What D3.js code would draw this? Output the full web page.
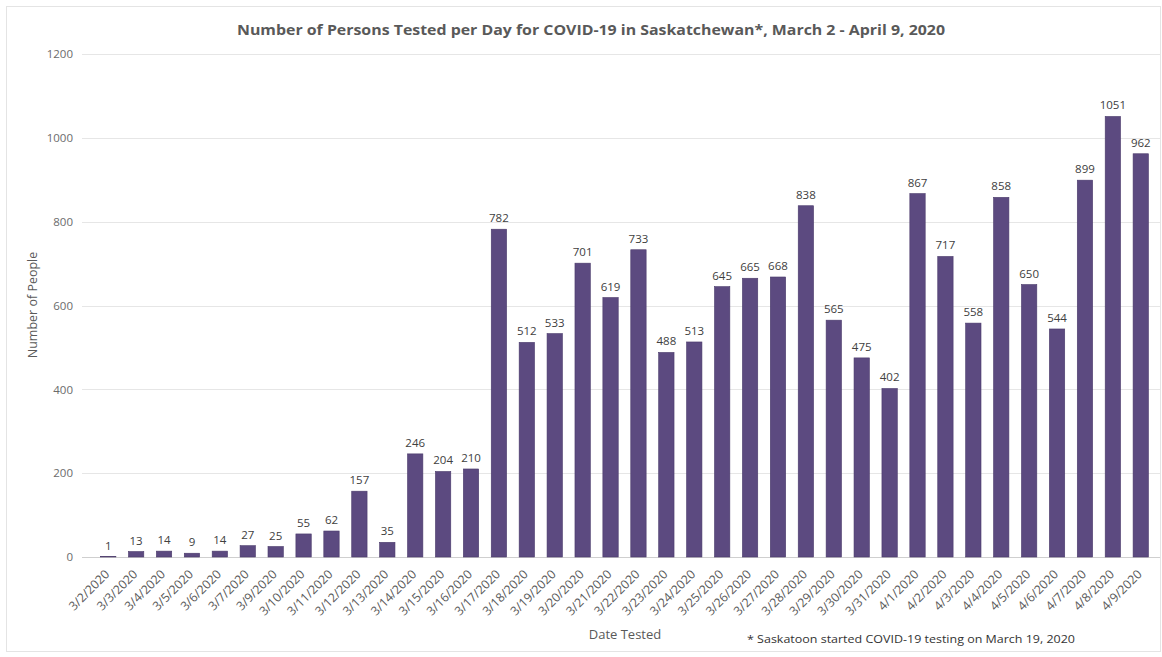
<!DOCTYPE html>
<html>
<head>
<meta charset="utf-8">
<script src="https://cdn.jsdelivr.net/npm/d3@7"></script>
<style>
  body { margin: 0; background: #fff; }
  svg text { font-family: "Open Sans", "Liberation Sans", sans-serif; }
</style>
</head>
<body>
<div id="chart"></div>
<script>
var dates = ["3/2/2020","3/3/2020","3/4/2020","3/5/2020","3/6/2020","3/7/2020","3/9/2020","3/10/2020",
  "3/11/2020","3/12/2020","3/13/2020","3/14/2020","3/15/2020","3/16/2020","3/17/2020","3/18/2020",
  "3/19/2020","3/20/2020","3/21/2020","3/22/2020","3/23/2020","3/24/2020","3/25/2020","3/26/2020",
  "3/27/2020","3/28/2020","3/29/2020","3/30/2020","3/31/2020","4/1/2020","4/2/2020","4/3/2020",
  "4/4/2020","4/5/2020","4/6/2020","4/7/2020","4/8/2020","4/9/2020"];
var tested = [1,13,14,9,14,27,25,55,62,157,35,246,204,210,782,512,533,701,619,733,488,513,645,665,
  668,838,565,475,402,867,717,558,858,650,544,899,1051,962];
var yTicks = [0,200,400,600,800,1000,1200];

var W = 1162, H = 657;
var margin = {top: 54, right: 1, bottom: 100, left: 88};
var barColor = '#5c4a80';

var svg = d3.select("#chart").append("svg").attr("width", W).attr("height", H);

// outer frame
svg.append("rect").attr("x", 6.5).attr("y", 6.5).attr("width", W - 8).attr("height", H - 12)
  .attr("fill", "none").attr("stroke", "#e4e4e4");

var x = d3.scaleBand().domain(dates).range([margin.left, W - margin.right]).padding(0.45);
var y = d3.scaleLinear().domain([0, 1200]).range([H - margin.bottom, margin.top]);

// gridlines
svg.append("g").selectAll("line").data(yTicks).enter().append("line")
  .attr("x1", 82).attr("x2", W - 2)
  .attr("y1", function (d) { return Math.round(y(d)) + 0.5; })
  .attr("y2", function (d) { return Math.round(y(d)) + 0.5; })
  .attr("stroke", function (d) { return d == 0 ? "#cfcfcf" : "#e6e6e6"; });

// y axis labels
var yAxis = svg.append("g").attr("transform", "translate(73,0)")
  .call(d3.axisLeft(y).tickValues(yTicks).tickFormat(d3.format("d")).tickSize(0).tickPadding(0));
yAxis.select(".domain").remove();
yAxis.selectAll("text").attr("fill", "#6b6b6b").style("font-size", "11.5px");

// bars
svg.append("g").selectAll("rect").data(tested).enter().append("rect")
  .attr("x", function (d, i) { return x(dates[i]); })
  .attr("y", function (d) { return y(d); })
  .attr("width", x.bandwidth())
  .attr("height", function (d) { return y(0) - y(d); })
  .attr("fill", barColor)
  .attr("stroke", "#4a3a6a").attr("stroke-width", 0.6);

// value labels
svg.append("g").selectAll("text").data(tested).enter().append("text")
  .attr("x", function (d, i) { return x(dates[i]) + x.bandwidth() / 2; })
  .attr("y", function (d) { return y(d) - 7; })
  .attr("text-anchor", "middle")
  .attr("fill", "#404040")
  .style("font-size", "11.5px")
  .text(function (d) { return d; });

// x axis labels
var xAxis = svg.append("g").attr("transform", "translate(0," + y(0) + ")")
  .call(d3.axisBottom(x).tickSize(0).tickPadding(0));
xAxis.select(".domain").remove();
xAxis.selectAll("text")
  .attr("text-anchor", "end")
  .attr("dy", 0).attr("y", 0)
  .attr("transform", "translate(2,18) rotate(-45)")
  .attr("fill", "#595959")
  .style("font-size", "12.3px");

// title
svg.append("text").attr("x", 591).attr("y", 35).attr("text-anchor", "middle")
  .attr("fill", "#595959").style("font-size", "14.5px").style("font-weight", "bold")
  .attr("textLength", 708).attr("lengthAdjust", "spacingAndGlyphs")
  .text("Number of Persons Tested per Day for COVID-19 in Saskatchewan*, March 2 - April 9, 2020");

// y axis title
svg.append("text").attr("transform", "translate(37,305) rotate(-90)").attr("text-anchor", "middle")
  .attr("fill", "#595959").style("font-size", "12.5px")
  .text("Number of People");

// x axis title
svg.append("text").attr("x", 625).attr("y", 639).attr("text-anchor", "middle")
  .attr("fill", "#595959").style("font-size", "13px")
  .text("Date Tested");

// footnote
svg.append("text").attr("x", 747).attr("y", 643)
  .attr("fill", "#333").style("font-size", "11.5px")
  .attr("textLength", 328).attr("lengthAdjust", "spacingAndGlyphs")
  .text("* Saskatoon started COVID-19 testing on March 19, 2020");
</script>
</body>
</html>
